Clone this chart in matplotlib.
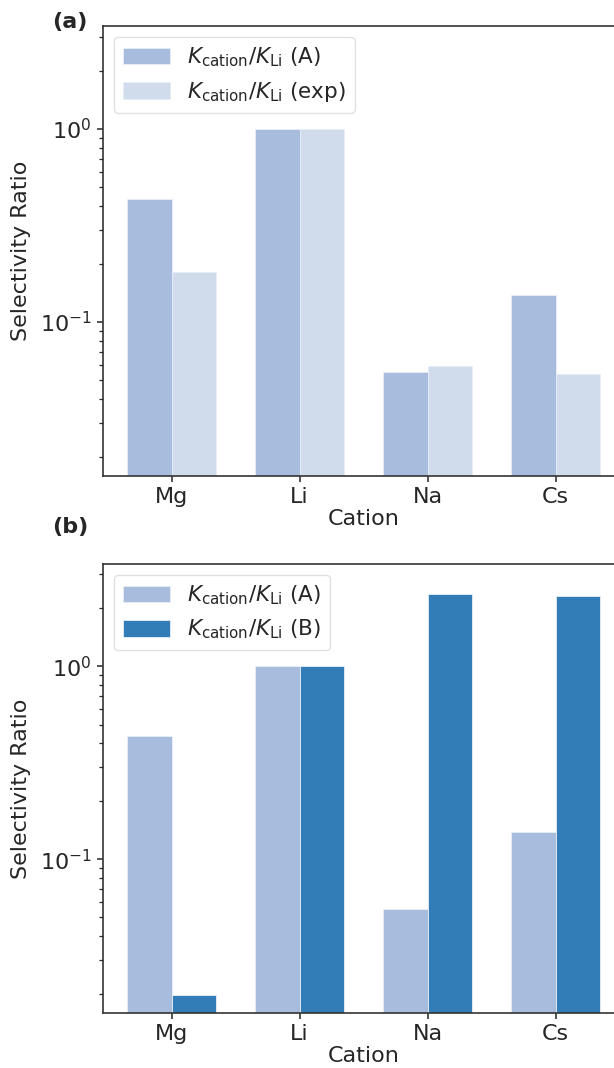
import numpy as np
import matplotlib
matplotlib.use('Agg')
import matplotlib.pyplot as plt

cations = ['Mg', 'Li', 'Na', 'Cs']
ratio_a = [0.434, 1.0, 0.0551, 0.138]
ratio_exp = [0.1816, 1.0, 0.0591, 0.0538]
ratio_b = [0.0197, 1.0, 2.39, 2.31]

c_a = '#a8bcdd'
c_exp = '#d0dbec'
c_b = '#327cb8'

plt.rcParams['font.family'] = 'DejaVu Sans'
plt.rcParams['text.color'] = '#262626'
plt.rcParams['axes.labelcolor'] = '#262626'
plt.rcParams['xtick.color'] = '#262626'
plt.rcParams['ytick.color'] = '#262626'
plt.rcParams['axes.edgecolor'] = '#333333'


def panel(ax, first, second, lab1, lab2, col1, col2):
    x = np.arange(len(cations))
    w = 0.35
    ax.bar(x - w / 2, first, w, color=col1, label=lab1,
           edgecolor='#e8eef7', linewidth=0.6)
    ax.bar(x + w / 2, second, w, color=col2, label=lab2,
           edgecolor='#e8eef7', linewidth=0.6)
    ax.set_yscale('log')
    ax.set_ylim(0.016, 3.4)
    ax.set_xlim(-0.535, 3.535)
    ax.set_xticks(x)
    ax.set_xticklabels(cations)
    ax.tick_params(labelsize=16, width=1.1, length=4.5, pad=4)
    ax.tick_params(which='minor', width=0.9, length=3)
    ax.spines['right'].set_visible(False)
    for s in ax.spines.values():
        s.set_linewidth(1.2)
    ax.set_xlabel('Cation', fontsize=16, labelpad=1)
    ax.set_ylabel('Selectivity Ratio', fontsize=16, labelpad=6)
    leg = ax.legend(loc='upper left', fontsize=15.5, frameon=True,
                    fancybox=True, handlelength=2.2, handleheight=0.8,
                    borderaxespad=0.5)
    leg.get_frame().set_edgecolor('#d9d9d9')


fig = plt.figure(figsize=(6.14, 10.68), dpi=100)
ax1 = fig.add_axes([0.1682, 0.5546, 0.848, 0.4208])
ax2 = fig.add_axes([0.1682, 0.0518, 0.848, 0.4201])

lab_a = r'$K_{\mathrm{cation}}/K_{\mathrm{Li}}$ (A)'
lab_exp = r'$K_{\mathrm{cation}}/K_{\mathrm{Li}}$ (exp)'
lab_b = r'$K_{\mathrm{cation}}/K_{\mathrm{Li}}$ (B)'

panel(ax1, ratio_a, ratio_exp, lab_a, lab_exp, c_a, c_exp)
panel(ax2, ratio_a, ratio_b, lab_a, lab_b, c_a, c_b)

fig.text(0.085, 0.979, '(a)', fontsize=16, fontweight='bold', ha='left', va='center')
fig.text(0.085, 0.507, '(b)', fontsize=16, fontweight='bold', ha='left', va='center')

plt.savefig('out.png', dpi=100)
